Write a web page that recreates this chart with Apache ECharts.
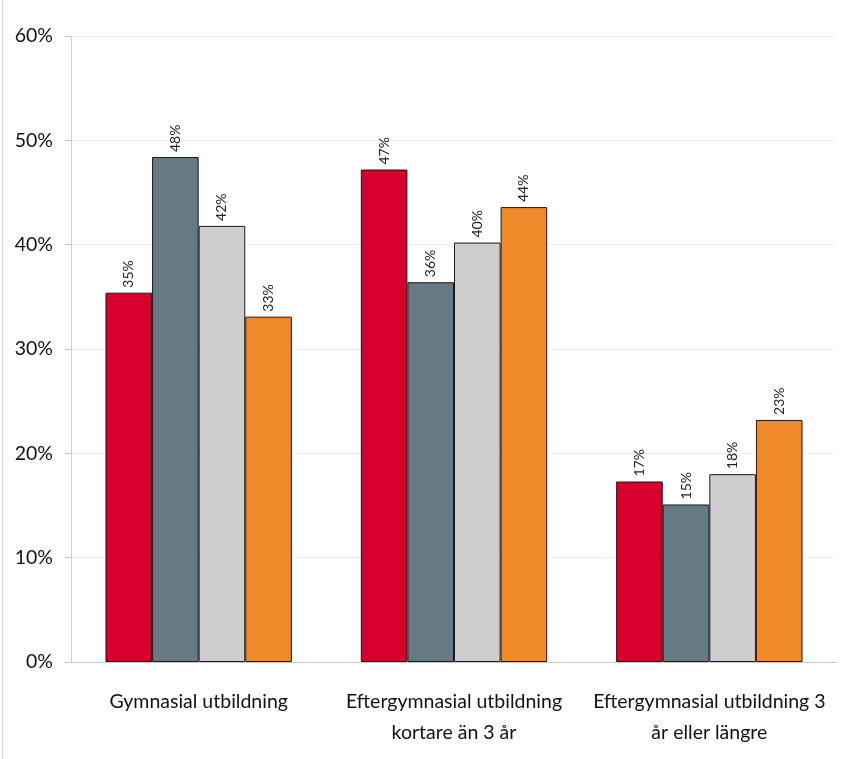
<!DOCTYPE html>
<html>
<head>
<meta charset="utf-8">
<script src="https://cdn.jsdelivr.net/npm/echarts@6/dist/echarts.min.js"></script>
<style>html,body{margin:0;padding:0;background:#fff}#c{width:856px;height:759px}</style>
</head>
<body>
<div id="c"></div>
<script>
const categories = ['Gymnasial utbildning', 'Eftergymnasial utbildning\nkortare än 3 år', 'Eftergymnasial utbildning 3\når eller längre'];
const seriesA = [35.4, 47.2, 17.3];
const seriesB = [48.4, 36.4, 15.1];
const seriesC = [41.8, 40.2, 18.0];
const seriesD = [33.1, 43.6, 23.2];
const yTicks = [0, 10, 20, 30, 40, 50, 60];

const colors = ['#D5002B', '#667A84', '#CECECE', '#F0892A'];
const font = 'Lato, "Open Sans", sans-serif';

function mk(name, data, color) {
  return {
    name: name, type: 'bar', data: data,
    barGap: '0%', barCategoryGap: '27%',
    itemStyle: { color: color, borderColor: '#1a1a1a', borderWidth: 1 },
    label: {
      show: true, position: 'top', rotate: 90, align: 'left', verticalAlign: 'middle',
      distance: 5, fontSize: 14, color: '#222', fontFamily: font,
      formatter: p => Math.round(p.value) + '%'
    }
  };
}

const chart = echarts.init(document.getElementById('c'));
chart.setOption({
  animation: false,
  grid: { left: 71, right: 19, top: 36, bottom: 97 },
  graphic: [{ type: 'rect', shape: { x: 2, y: 0, width: 1, height: 759 }, style: { fill: '#d9d9d9' } }],
  xAxis: {
    type: 'category', data: categories,
    axisLine: { lineStyle: { color: '#c8c8c8' } },
    axisTick: { show: false },
    axisLabel: { fontSize: 19.5, color: '#111', fontFamily: font, margin: 24, lineHeight: 31, interval: 0 }
  },
  yAxis: {
    type: 'value', min: 0, max: 60, interval: 10,
    axisLine: { show: true, lineStyle: { color: '#d0d0d0' } },
    axisTick: { show: true, length: 6, lineStyle: { color: '#c8c8c8' } },
    splitLine: { lineStyle: { color: '#eeeeee' } },
    axisLabel: { fontSize: 19.5, color: '#111', fontFamily: font, margin: 18,
      formatter: v => yTicks.indexOf(v) >= 0 ? v + '%' : '' }
  },
  series: [mk('A', seriesA, colors[0]), mk('B', seriesB, colors[1]), mk('C', seriesC, colors[2]), mk('D', seriesD, colors[3])]
});
</script>
</body>
</html>
